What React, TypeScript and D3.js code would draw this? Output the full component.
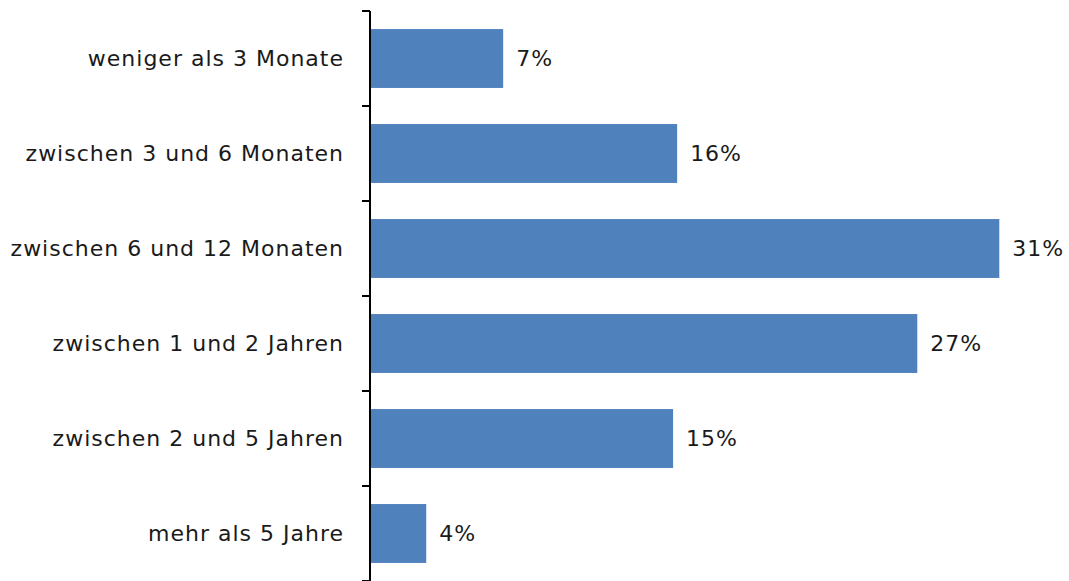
import React from "react";
import * as d3 from "d3";

const categories = [
  "weniger als 3 Monate",
  "zwischen 3 und 6 Monaten",
  "zwischen 6 und 12 Monaten",
  "zwischen 1 und 2 Jahren",
  "zwischen 2 und 5 Jahren",
  "mehr als 5 Jahre",
];
const values = [6.56, 15.13, 31, 26.96, 14.93, 2.77];
const valueLabels = ["7%", "16%", "31%", "27%", "15%", "4%"];

const W = 1069;
const H = 581;
const axisX = 370;

export default function App() {
  const y = d3.scaleBand<string>().domain(categories).range([11, 581]).paddingInner(0.38).paddingOuter(0.19);
  const x = d3.scaleLinear().domain([0, 32]).range([axisX, axisX + 32 * 20.3]);
  const step = y.step();
  const tickYs = d3.range(categories.length + 1).map((i) => 11 + i * step);
  const font = "'DejaVu Sans', sans-serif";
  return (
    <svg width={W} height={H} style={{ position: "absolute", left: 0, top: 0 }}>
      <rect width={W} height={H} fill="#fff" />
      {categories.map((c, i) => {
        const yy = y(c)!;
        const v = values[i];
        return (
          <g key={c}>
            <rect x={x(0)} y={yy} width={x(v) - x(0)} height={y.bandwidth()} fill="#4F81BD" />
            <text x={axisX - 26} y={yy + y.bandwidth() / 2} dy="0.35em" textAnchor="end" fontFamily={font} fontSize={22} letterSpacing={1} fill="#1a1a1a">
              {c}
            </text>
            <text x={x(v) + 13} y={yy + y.bandwidth() / 2} dy="0.35em" textAnchor="start" fontFamily={font} fontSize={22} letterSpacing={1} fill="#1a1a1a">
              {valueLabels[i]}
            </text>
          </g>
        );
      })}
      <line x1={axisX} x2={axisX} y1={11} y2={581} stroke="#000" strokeWidth={2} />
      {tickYs.map((t, i) => (
        <line key={i} x1={axisX - 8} x2={axisX} y1={t} y2={t} stroke="#000" strokeWidth={2} />
      ))}
    </svg>
  );
}
